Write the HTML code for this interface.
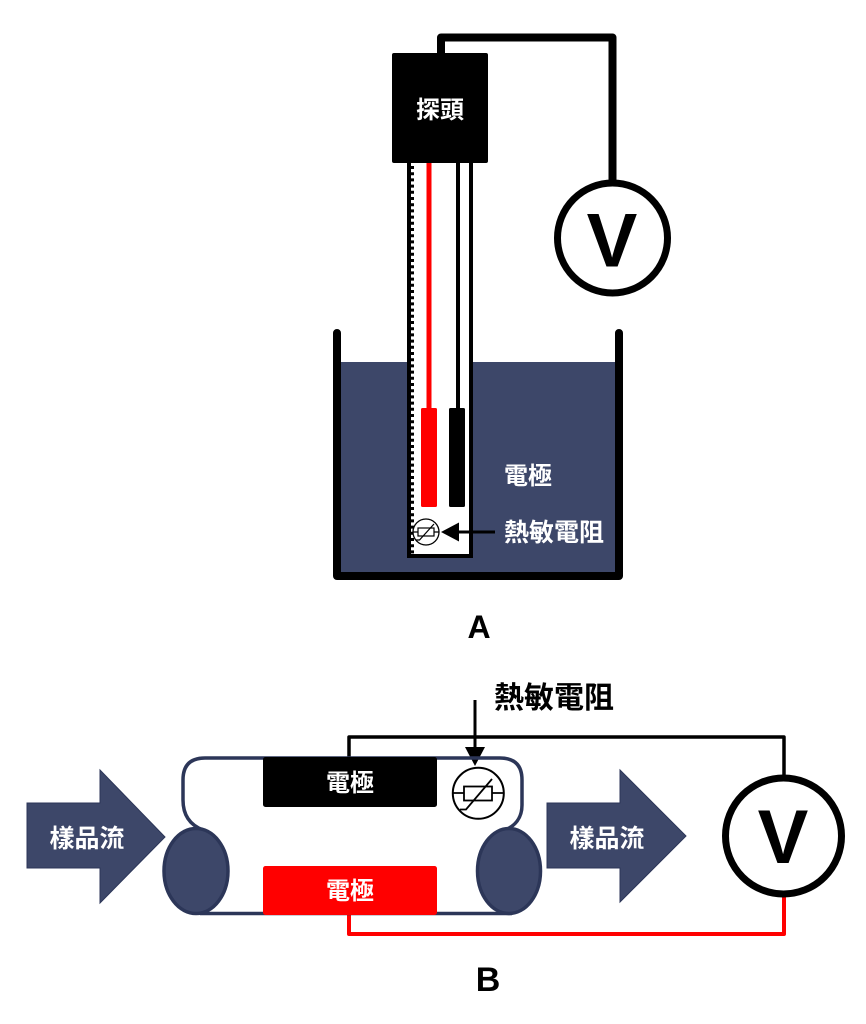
<!DOCTYPE html>
<html>
<head>
<meta charset="utf-8">
<style>
html,body{margin:0;padding:0;background:#fff;}
body{width:866px;height:1024px;overflow:hidden;}
svg{display:block;}
text{font-family:"Liberation Sans","Noto Sans CJK TC",sans-serif;font-weight:bold;}
</style>
</head>
<body>
<svg width="866" height="1024" viewBox="0 0 866 1024" xmlns="http://www.w3.org/2000/svg">
  <!-- ============ Diagram A ============ -->
  <!-- liquid -->
  <rect x="341" y="362" width="274" height="211" fill="#3d4769"/>
  <!-- beaker -->
  <path d="M337 333 L337 576 L619 576 L619 333" fill="none" stroke="#000" stroke-width="8" stroke-linecap="round" stroke-linejoin="round"/>

  <!-- probe wire to voltmeter -->
  <path d="M441 56 L441 37.5 L612.5 37.5 L612.5 182" fill="none" stroke="#000" stroke-width="8" stroke-linejoin="round"/>
  <!-- voltmeter A -->
  <circle cx="612.5" cy="238" r="55" fill="#fff" stroke="#000" stroke-width="7"/>
  <text x="612" y="266.5" font-size="76" text-anchor="middle" fill="#000">V</text>

  <!-- probe tube -->
  <rect x="407" y="160" width="66" height="398" fill="#fff"/>
  <rect x="407" y="160" width="4" height="398" fill="#000"/>
  <line x1="412.5" y1="166" x2="412.5" y2="556" stroke="#000" stroke-width="3" stroke-dasharray="3 3.2"/>
  <rect x="469" y="160" width="4" height="398" fill="#000"/>
  <rect x="407" y="554" width="66" height="4" fill="#000"/>

  <!-- wires in tube -->
  <line x1="429" y1="160" x2="429" y2="410" stroke="#f00" stroke-width="5"/>
  <line x1="458" y1="160" x2="458" y2="410" stroke="#000" stroke-width="4"/>
  <!-- electrodes -->
  <rect x="421" y="408" width="16" height="99" rx="1.5" fill="#f00"/>
  <rect x="449" y="408" width="16" height="99" rx="1.5" fill="#000"/>

  <!-- probe head -->
  <rect x="392" y="53" width="96" height="110" rx="2" fill="#000"/>
  <text x="440" y="118" font-size="24" text-anchor="middle" fill="#fff">探頭</text>

  <!-- thermistor A -->
  <circle cx="426" cy="532" r="13" fill="#fff" stroke="#000" stroke-width="1.3"/>
  <line x1="413" y1="532" x2="439" y2="532" stroke="#000" stroke-width="1.2"/>
  <rect x="418" y="528" width="16" height="8" fill="#fff" stroke="#000" stroke-width="1.2"/>
  <polyline points="416,540 419.5,540 434,524" fill="none" stroke="#000" stroke-width="1.2"/>

  <!-- arrow A -->
  <line x1="495" y1="532" x2="456" y2="532" stroke="#000" stroke-width="3"/>
  <polygon points="441,532 459,522.5 459,541.5" fill="#000"/>

  <text x="504" y="484" font-size="24" fill="#fff">電極</text>
  <text x="504" y="541" font-size="25" fill="#fff">熱敏電阻</text>

  <text x="479" y="638" font-size="32" text-anchor="middle" fill="#000">A</text>

  <!-- ============ Diagram B ============ -->
  <text x="494" y="708" font-size="30" fill="#000">熱敏電阻</text>
  <line x1="475" y1="700" x2="475" y2="752" stroke="#000" stroke-width="3"/>
  <polygon points="475,766 465,747 485,747" fill="#000"/>

  <!-- top black wire -->
  <path d="M349 758 L349 737 L784 737 L784 776" fill="none" stroke="#000" stroke-width="3.5" stroke-linejoin="round"/>
  <!-- bottom red wire -->
  <path d="M784 896 L784 934 L349 934 L349 913" fill="none" stroke="#f00" stroke-width="4" stroke-linejoin="round"/>

  <!-- tube outline -->
  <path d="M203 830 C190 825 183 815 183 800 L183 780 Q183 758 205 758 L500 758 Q522 758 522 780 L522 805 C522 818 515 826 505 830" fill="none" stroke="#2c3658" stroke-width="3.5"/>
  <line x1="200" y1="913.5" x2="512" y2="913.5" stroke="#2c3658" stroke-width="3.5"/>
  <!-- end ellipses -->
  <ellipse cx="196" cy="871" rx="32" ry="42.5" fill="#3d4769" stroke="#2c3658" stroke-width="3.5"/>
  <ellipse cx="509" cy="871" rx="31.5" ry="42.5" fill="#3d4769" stroke="#2c3658" stroke-width="3.5"/>

  <!-- electrodes B -->
  <rect x="263" y="757" width="174" height="50" rx="2.5" fill="#000"/>
  <text x="350" y="791" font-size="24" text-anchor="middle" fill="#fff">電極</text>
  <rect x="263" y="866" width="174" height="49" rx="2.5" fill="#f00"/>
  <text x="350" y="899" font-size="24" text-anchor="middle" fill="#fff">電極</text>

  <!-- thermistor B -->
  <circle cx="478.3" cy="793.3" r="25.5" fill="#fff" stroke="#000" stroke-width="2"/>
  <line x1="453" y1="793" x2="504" y2="793" stroke="#000" stroke-width="1.8"/>
  <rect x="464" y="786.5" width="28" height="14" fill="#fff" stroke="#000" stroke-width="1.8"/>
  <polyline points="460,809.5 466,809.5 492,779" fill="none" stroke="#000" stroke-width="1.8"/>

  <!-- sample flow arrows -->
  <polygon points="27,803 100,803 100,770 165,837 100,903 100,868 27,868" fill="#3d4769" stroke="#2c3658" stroke-width="1"/>
  <text x="87" y="847" font-size="25" text-anchor="middle" fill="#fff">樣品流</text>
  <polygon points="547,803 620,803 620,770 686,836 620,902 620,868 547,868" fill="#3d4769" stroke="#2c3658" stroke-width="1"/>
  <text x="607" y="847" font-size="25" text-anchor="middle" fill="#fff">樣品流</text>

  <!-- voltmeter B -->
  <circle cx="783.5" cy="836" r="58" fill="#fff" stroke="#000" stroke-width="7"/>
  <text x="783" y="863" font-size="76" text-anchor="middle" fill="#000">V</text>

  <text x="488" y="991" font-size="34" text-anchor="middle" fill="#000">B</text>
</svg>
</body>
</html>
